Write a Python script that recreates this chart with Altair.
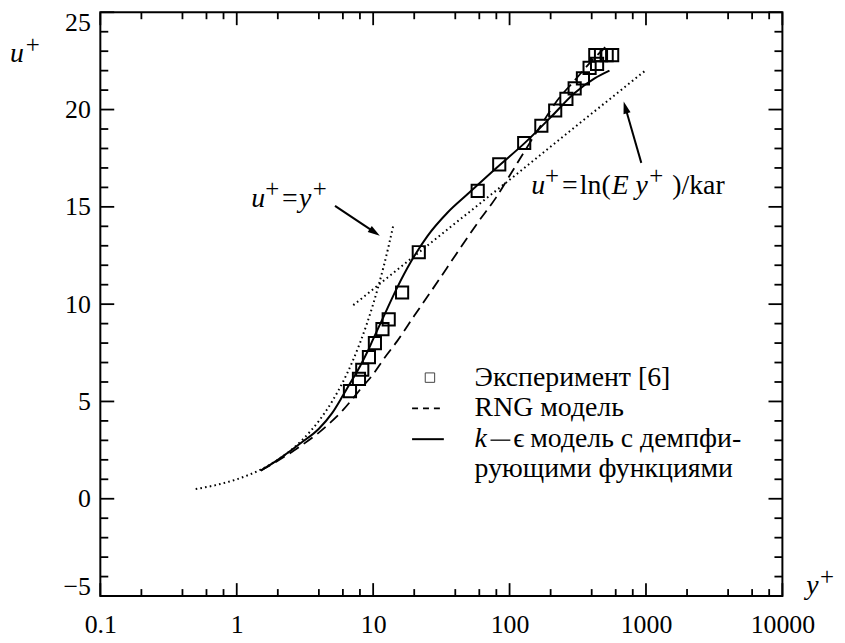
import altair as alt
import pandas as pd

FONT = "Liberation Serif"

# ---------------- data ----------------
# Experiment [6] (squares)
exp_y = [6.76, 7.87, 8.32, 9.31, 10.3, 11.7, 13.0, 16.3, 21.6, 58.4, 84, 128, 171, 216,
         261, 300, 345, 386, 438, 425, 468, 515, 565]
exp_u = [5.53, 6.16, 6.63, 7.28, 8.0, 8.72, 9.22, 10.6, 12.67, 15.82, 17.18, 18.28, 19.17,
         19.95, 20.55, 21.09, 21.6, 22.14, 22.35, 22.8, 22.8, 22.8, 22.8]

# RNG model (dashed)
rng_y = [1.5, 2, 3, 4, 5, 6, 7, 8, 10, 12, 15, 20, 30, 40, 60, 80, 100, 130, 170, 220, 300, 400, 520]
rng_u = [1.45, 1.95, 2.75, 3.4, 4.0, 4.55, 5.1, 5.6, 6.4, 7.2, 8.1, 9.4, 11.2, 12.5, 14.3, 15.5,
         16.6, 17.9, 19.2, 20.4, 21.5, 22.5, 23.3]

# k-epsilon model with damping functions (solid)
ke_y = [1.5, 2, 3, 4, 5, 6, 7, 8, 9, 10, 12, 15, 19, 25, 35, 50, 80, 130, 200, 300, 420, 540]
ke_u = [1.45, 2.0, 2.9, 3.6, 4.4, 5.3, 6.1, 6.8, 7.5, 8.2, 9.4, 10.85, 12.2, 13.5, 14.7, 15.7,
        17.0, 18.3, 19.6, 20.85, 21.6, 22.0]

# viscous sublayer u+ = y+ (dotted)
lin_y = [0.5, 0.7, 1, 1.5, 2, 3, 4, 5, 6, 7, 8, 9, 10, 11, 12, 13, 14]
lin_u = [0.5, 0.7, 1, 1.5, 2, 3, 4, 5, 6, 7, 8, 9, 10, 11, 12, 13, 14]

# log law u+ = ln(E y+)/kar (dotted)
log_y = [7.15, 10, 30, 100, 300, 1000]
log_u = [9.95, 10.77, 13.46, 16.39, 19.09, 22.03]

# annotation arrows (start, head centre) and head angles
arr_id = ["a", "a", "b", "b"]
arr_y = [5.25, 10.28, 924, 706]
arr_u = [15.05, 13.69, 17.26, 20.11]
head_y = [10.28, 706]
head_u = [13.69, 20.11]
head_angle = [124, 344]

# axis ticks
x_major = [0.1, 1, 10, 100, 1000, 10000]
x_minor = [m * d for d in [0.1, 1, 10, 100, 1000] for m in (2, 4, 6, 8)]
y_major = [-5, 0, 5, 10, 15, 20, 25]
y_minor = [v for v in range(-5, 26) if v % 5 != 0]

legend_labels = ["Эксперимент [6]", "RNG модель", "k", "ϵ", "модель с демпфи-", "рующими функциями"]

# ---------------- chart ----------------
W, H = 687, 588
xs = alt.Scale(type="log", domain=[0.1, 10000], nice=False)
ys = alt.Scale(domain=[-5, 25], nice=False, zero=False)

x_axis = alt.Axis(values=x_major, format="~g", tickSize=0, domain=False, grid=False,
                  labelFont=FONT, labelFontSize=26, labelColor="black", labelPadding=16,
                  labelFlush=False, title="")
y_axis = alt.Axis(values=y_major, format="d", tickSize=0, domain=False, grid=False,
                  labelFont=FONT, labelFontSize=26, labelColor="black", labelPadding=10,
                  labelFlush=True, labelFlushOffset=3, title="")

X = lambda f: alt.X(f, scale=xs, axis=x_axis)
Y = lambda f: alt.Y(f, scale=ys, axis=y_axis)

exp_df = pd.DataFrame({"y": exp_y, "u": exp_u})
squares = alt.Chart(exp_df).mark_point(shape="square", size=150, filled=False,
                                       stroke="black", strokeWidth=2, opacity=1).encode(
    x=X("y:Q"), y=Y("u:Q"))

def curve(yv, uv, dash=None, width=2.0):
    df = pd.DataFrame({"y": yv, "u": uv})
    kw = dict(color="black", strokeWidth=width, interpolate="monotone")
    if dash:
        kw["strokeDash"] = dash
    return alt.Chart(df).mark_line(**kw).encode(x=X("y:Q"), y=Y("u:Q"))

ke_line = curve(ke_y, ke_u, width=2.0)
rng_line = curve(rng_y, rng_u, dash=[11, 6], width=1.8)
lin_line = curve(lin_y, lin_u, dash=[1.6, 3.2], width=2.0)
log_line = curve(log_y, log_u, dash=[1.6, 3.2], width=2.0)

arr_df = pd.DataFrame({"id": arr_id, "y": arr_y, "u": arr_u})
arrows = alt.Chart(arr_df).mark_line(color="black", strokeWidth=2).encode(
    x=X("y:Q"), y=Y("u:Q"), detail="id:N")
head_df = pd.DataFrame({"y": head_y, "u": head_u, "a": head_angle})
heads = alt.Chart(head_df).mark_point(shape="M0,-1L0.6,1L-0.6,1Z", size=150, filled=True,
                                      color="black", opacity=1).encode(
    x=X("y:Q"), y=Y("u:Q"), angle=alt.Angle("a:Q", scale=None))

# axis ticks pointing inward on all four sides
def xticks(vals, length, top):
    df = pd.DataFrame({"v": vals})
    enc = dict(x=X("v:Q"))
    if top:
        enc.update(y=alt.value(0), y2=alt.value(length))
    else:
        enc.update(y=alt.value(H), y2=alt.value(H - length))
    return alt.Chart(df).mark_rule(color="black", strokeWidth=1.8).encode(**enc)

def yticks(vals, length, right):
    df = pd.DataFrame({"v": vals})
    enc = dict(y=Y("v:Q"))
    if right:
        enc.update(x=alt.value(W), x2=alt.value(W - length))
    else:
        enc.update(x=alt.value(0), x2=alt.value(length))
    return alt.Chart(df).mark_rule(color="black", strokeWidth=1.8).encode(**enc)

ticks = [xticks(x_major, 13, False), xticks(x_minor, 7, False),
         xticks(x_major, 13, True), xticks(x_minor, 7, True),
         yticks(y_major, 14, False), yticks(y_minor, 8, False),
         yticks(y_major, 14, True), yticks(y_minor, 8, True)]

def label(text, x, y, italic=False, size=28, baseline="alphabetic"):
    df = pd.DataFrame({"t": [text]})
    kw = dict(font=FONT, fontSize=size, color="black", align="left", baseline=baseline)
    if italic:
        kw["fontStyle"] = "italic"
    return alt.Chart(df).mark_text(**kw).encode(x=alt.value(x), y=alt.value(y), text="t:N")

SUP = 25
texts = [
    # axis titles u+ and y+
    label("u", -91, 50, italic=True),
    label("+", -75, 41, size=SUP),
    label("y", 711, 586, italic=True),
    label("+", 725, 577, size=SUP),
    # u+ = y+
    label("u", 152, 196, italic=True),
    label("+", 166, 186, size=SUP),
    label("=", 183, 196),
    label("y", 200, 196, italic=True),
    label("+", 214, 186, size=SUP),
    # u+ = ln(E y+)/kar
    label("u", 434, 183, italic=True),
    label("+", 448, 173, size=SUP),
    label("=", 465, 183),
    label("ln(", 483, 183),
    label("E", 515, 183, italic=True),
    label("y", 539, 183, italic=True),
    label("+", 553, 173, size=SUP),
    label(")/kar", 576, 183),
    # legend
    label(legend_labels[0], 377, 368, baseline="middle"),
    label(legend_labels[1], 377, 399, baseline="middle"),
    label(legend_labels[2], 377, 430, italic=True, baseline="middle"),
    label(legend_labels[3], 416, 430, baseline="middle"),
    label(legend_labels[4], 433, 430, baseline="middle"),
    label(legend_labels[5], 377, 460, baseline="middle"),
]

leg_df = pd.DataFrame({"k": ["exp"]})
leg_sq = alt.Chart(leg_df).mark_point(shape="square", size=90, filled=False, stroke="#444",
                                      strokeWidth=1, opacity=1).encode(
    x=alt.value(332), y=alt.value(368))
leg_dash = alt.Chart(leg_df).mark_rule(color="black", strokeWidth=1.8, strokeDash=[6, 5]).encode(
    x=alt.value(314), x2=alt.value(346), y=alt.value(399))
leg_solid = alt.Chart(leg_df).mark_rule(color="black", strokeWidth=2).encode(
    x=alt.value(314), x2=alt.value(346), y=alt.value(430))
# the long dash between k and epsilon in the legend text
leg_emdash = alt.Chart(leg_df).mark_rule(color="black", strokeWidth=1.3).encode(
    x=alt.value(393), x2=alt.value(413), y=alt.value(431))

chart = alt.layer(
    squares, ke_line, rng_line, lin_line, log_line, arrows, heads,
    *ticks, *texts, leg_sq, leg_dash, leg_solid, leg_emdash,
).properties(
    width=W, height=H,
    padding={"left": 93, "top": 2, "right": 55, "bottom": 45},
    autosize=alt.AutoSizeParams(type="none"),
    background="white",
).configure_view(stroke="black", strokeWidth=2)

chart.save("out.html", embed_options={"renderer": "svg", "actions": False})
